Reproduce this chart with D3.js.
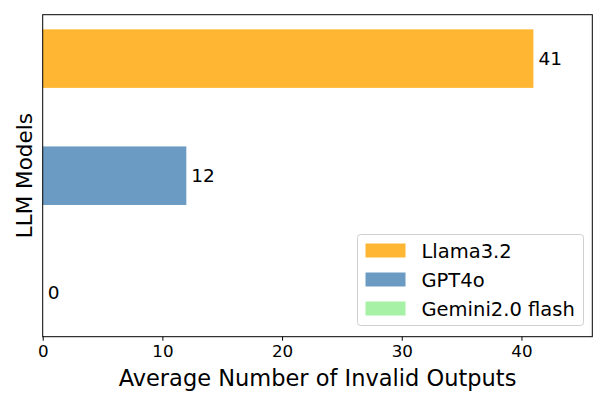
<!DOCTYPE html>
<html>
<head>
<meta charset="utf-8">
<script src="https://cdn.jsdelivr.net/npm/d3@7"></script>
<style>
  body { margin: 0; background: #fff; }
  svg { font-family: "DejaVu Sans", sans-serif; }
</style>
</head>
<body>
<div id="chart"></div>
<script>
// data
var models = ["Llama3.2", "GPT4o", "Gemini2.0 flash"];
var invalidOutputs = [41, 12, 0];
var barColors = ["orange", "steelblue", "lightgreen"];
var xTicks = [0, 10, 20, 30, 40];

var width = 609;
var height = 406;
var plot = { left: 42.7, right: 592.3, top: 14.7, bottom: 336.7 };

var svg = d3.select("#chart").append("svg")
    .attr("width", width)
    .attr("height", height);

var x = d3.scaleLinear()
    .domain([0, d3.max(invalidOutputs) * 1.12])
    .range([plot.left, plot.right]);

// categories at 0,1,2 top to bottom, bar height 0.5
var y = d3.scaleLinear()
    .domain([-0.375, models.length - 1 + 0.375])
    .range([plot.top, plot.bottom]);

var barH = y(0.5) - y(0);

svg.selectAll("rect.bar")
    .data(models)
    .enter().append("rect")
    .attr("class", "bar")
    .attr("x", x(0))
    .attr("y", function(d, i) { return y(i - 0.25); })
    .attr("width", function(d, i) { return x(invalidOutputs[i]) - x(0); })
    .attr("height", barH)
    .attr("fill", function(d, i) { return barColors[i]; })
    .attr("fill-opacity", 0.8);

// value labels
svg.selectAll("text.val")
    .data(models)
    .enter().append("text")
    .attr("class", "val")
    .attr("x", function(d, i) { return x(invalidOutputs[i]) + 5; })
    .attr("y", function(d, i) { return y(i); })
    .attr("dy", "0.36em")
    .style("font-size", "18.5px")
    .text(function(d, i) { return invalidOutputs[i]; });

// frame
svg.append("rect")
    .attr("x", plot.left)
    .attr("y", plot.top)
    .attr("width", plot.right - plot.left)
    .attr("height", plot.bottom - plot.top)
    .attr("fill", "none")
    .attr("stroke", "#000")
    .attr("stroke-width", 1);

// x axis
var xAxis = svg.append("g")
    .attr("transform", "translate(0," + plot.bottom + ")")
    .call(d3.axisBottom(x).tickValues(xTicks).tickSize(4).tickPadding(4));
xAxis.select(".domain").remove();
xAxis.selectAll("text").style("font-size", "16.7px").attr("fill", "#000")
    .style("font-family", "DejaVu Sans");

svg.append("text")
    .attr("x", (plot.left + plot.right) / 2 - 0)
    .attr("y", 385.5)
    .attr("text-anchor", "middle")
    .style("font-size", "22.5px")
    .text("Average Number of Invalid Outputs");

svg.append("text")
    .attr("transform", "translate(32," + ((plot.top + plot.bottom) / 2) + ") rotate(-90)")
    .attr("text-anchor", "middle")
    .style("font-size", "21.5px")
    .text("LLM Models");

// legend
var legend = svg.append("g").attr("transform", "translate(357.5,234.5)");
legend.append("rect")
    .attr("width", 226)
    .attr("height", 91)
    .attr("rx", 3)
    .attr("fill", "#fff")
    .attr("fill-opacity", 0.8)
    .attr("stroke", "#d0d0d0");

var item = legend.selectAll("g.item")
    .data(models)
    .enter().append("g")
    .attr("class", "item")
    .attr("transform", function(d, i) { return "translate(0," + (i * 29) + ")"; });

item.append("rect")
    .attr("x", 8)
    .attr("y", 9)
    .attr("width", 40)
    .attr("height", 14)
    .attr("fill", function(d, i) { return barColors[i]; })
    .attr("fill-opacity", 0.8);

item.append("text")
    .attr("x", 64)
    .attr("y", 16)
    .attr("dy", "0.36em")
    .style("font-size", "19.5px")
    .text(function(d) { return d; });
</script>
</body>
</html>
